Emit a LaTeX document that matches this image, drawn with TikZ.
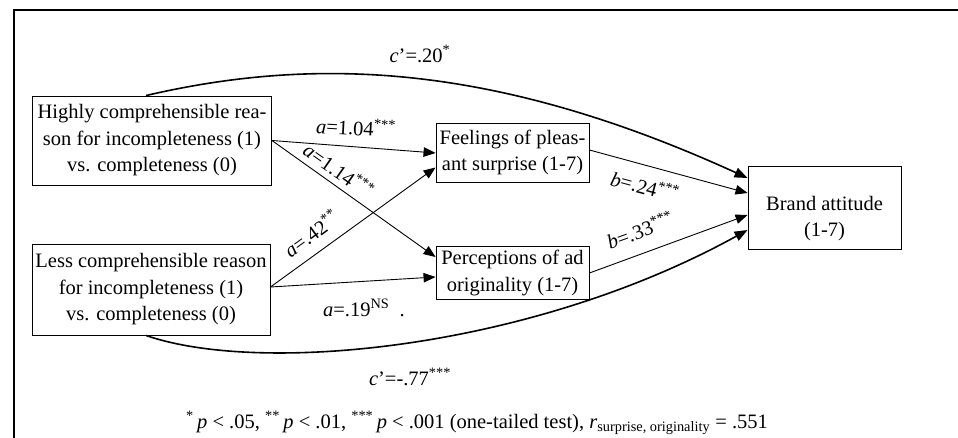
\documentclass[tikz,border=0pt]{standalone}
\usepackage{fontspec}
\setmainfont{Liberation Serif}
\usetikzlibrary{arrows.meta,calc}
\newcommand{\diafont}{\fontsize{20.5}{26.5}\selectfont}
\begin{document}
\begin{tikzpicture}[x=1pt,y=-1pt,
  box/.style={draw,line width=0.9pt,inner sep=0pt,align=center,font=\diafont},
  lbl/.style={inner sep=0pt,align=center,font=\diafont},
  conn/.style={line width=0.9pt,-{Triangle[length=12pt,width=9.5pt]}},
  curv/.style={line width=1.6pt,-{Triangle[length=13pt,width=10pt]}}]
\useasboundingbox (0,0) rectangle (958,438);
% frame
\draw[line width=2pt] (14.3,438) -- (14.3,10.2) -- (958,10.2);
% boxes
\node[box,minimum width=239pt,minimum height=89pt] (H) at (152,140.5)
  {Highly comprehensible rea-\\son for incompleteness (1)\\vs. completeness (0)};
\node[box,minimum width=238pt,minimum height=91pt] (L) at (151,289.5)
  {Less comprehensible reason\\for incompleteness (1)\\vs. completeness (0)};
\node[box,minimum width=153pt,minimum height=59pt] (Feel) at (512.5,152.5)
  {Feelings of pleas-\\ant surprise (1-7)};
\node[box,minimum width=153pt,minimum height=53pt] (Perc) at (512.5,273)
  {Perceptions of ad\\originality (1-7)};
\node[box,minimum width=153pt,minimum height=83pt] (Brand) at (824.5,207.5) {};
\node[lbl] (BT) at (824.5,218.5) {Brand attitude\\(1-7)};
% connectors
\draw[conn] (H.east) -- ($(Feel.west)+(0,0.5)$);
\draw[conn] (H.east) -- ($(Perc.west)+(0,-16)$);
\draw[conn] ($(L.east)+(0,-2.5)$) -- ($(Feel.west)+(0,15)$);
\draw[conn] ($(L.east)+(0,-2.5)$) -- ($(Perc.west)+(0,4)$);
\draw[conn] ($(Feel.east)+(0,-2.5)$) -- ($(Brand.west)+(0,-14.5)$);
\draw[conn] (Perc.east) -- ($(Brand.west)+(0,7.5)$);
\draw[curv] ($(H.north)+(-6,0)$) .. controls (320,55) and (500,65) .. ($(Brand.west)+(0,-29.5)$);
\draw[curv] ($(L.south)+(-5,0)$) .. controls (260,375) and (530,350) .. ($(Brand.west)+(0,22.5)$);
% labels
\node[lbl] (ctop) at (420,54) {\textit{c}’=.20\textsuperscript{*}};
\node[lbl,rotate=-3] (a1) at (356,127) {\textit{a}=1.04\textsuperscript{***}};
\node[lbl,rotate=-35] (a2) at (339,170) {\textit{a}=1.14\textsuperscript{***}};
\node[lbl,rotate=36] (a3) at (311,233) {\textit{a}=.42\textsuperscript{**}};
\node[lbl] (a4) at (364,308) {\textit{a}=.19\textsuperscript{NS}\ \ .};
\node[lbl,rotate=-15] (b1) at (645,186) {\textit{b}=.24\textsuperscript{***}};
\node[lbl,rotate=20] (b2) at (640,230) {\textit{b}=.33\textsuperscript{***}};
\node[lbl] (cbot) at (410,377) {\textit{c}’=-.77\textsuperscript{***}};
\node[lbl] (foot) at (477,423) {\textsuperscript{*}\,\textit{p} < .05, \textsuperscript{**}\,\textit{p} < .01, \textsuperscript{***}\,\textit{p} < .001 (one-tailed test), \textit{r}\textsubscript{surprise, originality} = .551};
\end{tikzpicture}
\end{document}
